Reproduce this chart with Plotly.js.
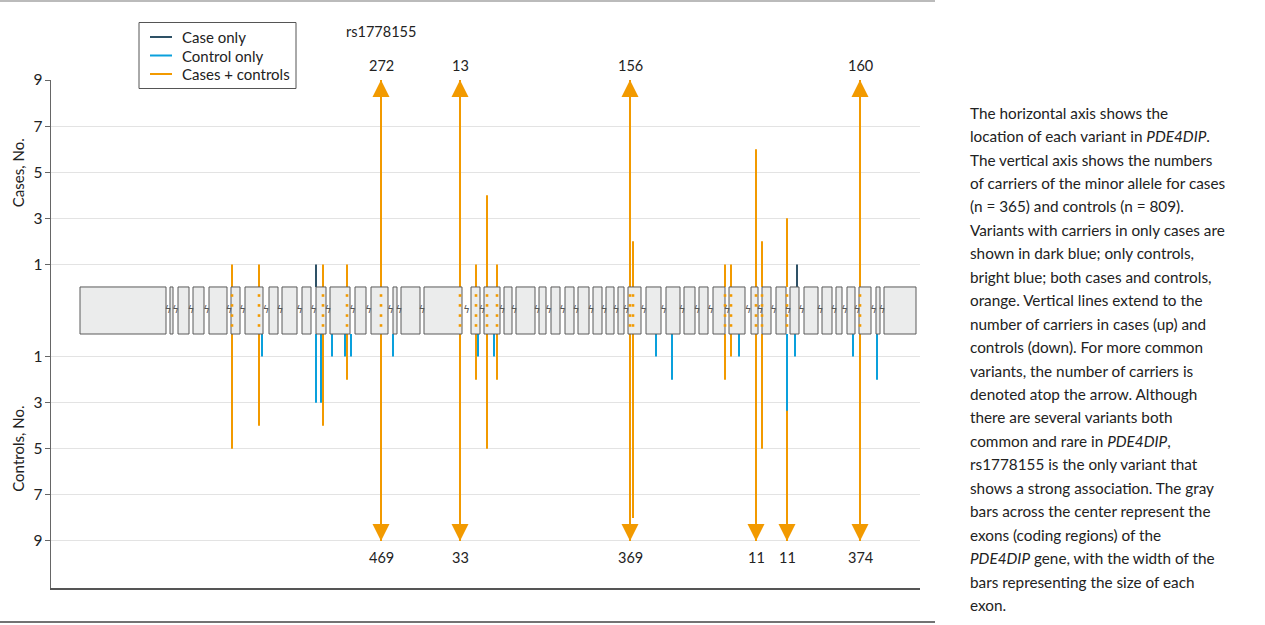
<!DOCTYPE html>
<html><head><meta charset="utf-8">
<script src="https://cdn.plot.ly/plotly-3.0.1.min.js"></script>
<style>html,body{margin:0;padding:0;background:#fff}#chart{width:1265px;height:625px}</style>
</head><body><div id="chart"></div>
<script>
// ---- exons of PDE4DIP (position units along the gene) ----
const exonStart = [80,170,178,193,209,231,245,269,282,302,316,330,355,371,393,401,424,471,484,504,516,539,551,565,578,593,606,618,628,646,666,684,699,713,729,751,762,776,790,804,822,836,847,859,876,884];
const exonEnd   = [166,173,189,204,227,240,263,278,297,311,326,350,366,388,397,420,462,480,500,512,535,546,560,574,589,602,614,624,641,661,680,695,708,725,745,758,771,786,799,818,832,842,855,871,880,916];

// ---- variants carried by both cases and controls ----
const bothPos      = [232,259,323,347,381,460,476,487,497,630,633,725,731,756,762,787,860];
const bothCases    = [1,1,1,1,272,13,1,4,1,156,2,1,1,6,2,3,160];
const bothControls = [5,4,4,2,469,33,2,5,2,369,8,2,1,11,5,11,374];

// ---- variants carried only by cases ----
const caseOnlyPos   = [316,797];
const caseOnlyCases = [1,1];

// ---- variants carried only by controls ----
const ctrlOnlyPos      = [262,316,321,332,345,351,393,478,494,656,672,739,787,795,853,877];
const ctrlOnlyControls = [1,3,3,1,1,1,1,1,1,1,2,1,3.35,1,1,2];

// ---- named variant ----
const namedPos = [381];
const namedLabel = ['rs1778155'];

// ---- axis ticks ----
const tickCounts = [9,7,5,3,1];
const seriesNames = ['Case only','Control only','Cases + controls'];

// ---- caption ----
const captionLines = [
 'The horizontal axis shows the',
 'location of each variant in <i>PDE4DIP</i>.',
 'The vertical axis shows the numbers',
 'of carriers of the minor allele for cases',
 '(n = 365) and controls (n = 809).',
 'Variants with carriers in only cases are',
 'shown in dark blue; only controls,',
 'bright blue; both cases and controls,',
 'orange. Vertical lines extend to the',
 'number of carriers in cases (up) and',
 'controls (down). For more common',
 'variants, the number of carriers is',
 'denoted atop the arrow. Although',
 'there are several variants both',
 'common and rare in <i>PDE4DIP</i>,',
 'rs1778155 is the only variant that',
 'shows a strong association. The gray',
 'bars across the center represent the',
 'exons (coding regions) of the',
 '<i>PDE4DIP</i> gene, with the width of the',
 'bars representing the size of each',
 'exon.'
];

// ---- style ----
const ORANGE = '#F29A00', BLUE = '#0AA0DC', DARK = '#2E5166';
const COLORS = [DARK, BLUE, ORANGE];
const FONT = 'Lato, "Open Sans", sans-serif';
const CAP = 9;          // largest count drawn to scale
const OFFSET = 1;       // gap between band centre and count 0
const HALF = 1.02;      // half height of exon band
const dotLevels = [0.65, 0.22, -0.22, -0.65];

const toY = (v, sign) => sign * (Math.min(v, CAP) + OFFSET);

function stemXY(pos, vals, sign) {
  const x = [], y = [];
  pos.forEach((p, i) => { x.push(p, p, null); y.push(sign * HALF, toY(vals[i], sign), null); });
  return {x, y};
}

const bUp = stemXY(bothPos, bothCases, 1);
const bDn = stemXY(bothPos, bothControls, -1);
const cUp = stemXY(caseOnlyPos, caseOnlyCases, 1);
const kDn = stemXY(ctrlOnlyPos, ctrlOnlyControls, -1);

const traces = [];
traces.push({type:'scatter', mode:'lines', name:seriesNames[2], showlegend:false,
  x: bUp.x.concat(bDn.x), y: bUp.y.concat(bDn.y),
  line:{color:ORANGE, width:2}, hoverinfo:'skip'});
traces.push({type:'scatter', mode:'lines', name:seriesNames[1], showlegend:false,
  x: kDn.x, y: kDn.y, line:{color:BLUE, width:2}, hoverinfo:'skip'});
traces.push({type:'scatter', mode:'lines', name:seriesNames[0], showlegend:false,
  x: cUp.x, y: cUp.y, line:{color:DARK, width:2}, hoverinfo:'skip'});

// exon band
const ex = [], ey = [];
exonStart.forEach((s, i) => {
  const e = exonEnd[i];
  ex.push(s, e, e, s, s, null); ey.push(-HALF, -HALF, HALF, HALF, -HALF, null);
});
traces.push({type:'scatter', mode:'lines', x:ex, y:ey, fill:'toself', fillcolor:'#EBECEC',
  line:{color:'#5a5a5a', width:1}, showlegend:false, hoverinfo:'skip'});

// intron break marks
const gapX = exonStart.slice(1).map((s, i) => (s + exonEnd[i]) / 2);
traces.push({type:'scatter', mode:'text', x:gapX, y:gapX.map(() => 0), text:gapX.map(() => 'ϟ'),
  textfont:{family:'DejaVu Sans', size:10, color:'#555'}, showlegend:false, hoverinfo:'skip'});

// dotted continuation of shared variants through the band
const dx = [], dy = [];
bothPos.forEach(p => dotLevels.forEach(l => { dx.push(p); dy.push(l); }));
traces.push({type:'scatter', mode:'markers', x:dx, y:dy,
  marker:{symbol:'square', size:2.6, color:ORANGE}, showlegend:false, hoverinfo:'skip'});

// arrows + labels for off-scale counts
const annotations = [];
function addArrow(p, v, sign) {
  annotations.push({x:p, y:toY(v, sign), xref:'x', yref:'y', text:'', showarrow:true,
    ax:0, ay:sign*30, arrowhead:2, arrowsize:1.7, arrowwidth:2, arrowcolor:ORANGE, standoff:0});
  annotations.push({x:p, y:toY(v, sign), xref:'x', yref:'y', text:String(v), showarrow:false,
    yanchor: sign > 0 ? 'bottom' : 'top', yshift: sign > 0 ? 4 : -6,
    font:{family:FONT, size:14.5, color:'#222'}});
}
bothPos.forEach((p, i) => {
  if (bothCases[i] > CAP) addArrow(p, bothCases[i], 1);
  if (bothControls[i] > CAP) addArrow(p, bothControls[i], -1);
});
namedPos.forEach((p, i) => annotations.push({x:p, y:CAP + OFFSET, xref:'x', yref:'y', text:namedLabel[i],
  showarrow:false, yanchor:'bottom', yshift:38, font:{family:FONT, size:14.5, color:'#222'}}));

// axis titles
annotations.push({xref:'paper', yref:'y', x:-0.038, y:6, xanchor:'center', yanchor:'middle', text:'Cases, No.', textangle:-90, showarrow:false,
  font:{family:FONT, size:15, color:'#222'}});
annotations.push({xref:'paper', yref:'y', x:-0.038, y:-6, xanchor:'center', yanchor:'middle', text:'Controls, No.', textangle:-90, showarrow:false,
  font:{family:FONT, size:15, color:'#222'}});

// caption
const plotTop = 80, plotBot = 588, plotLeft = 51, plotRight = 920;
const px2py = py => (plotBot - py) / (plotBot - plotTop);
const px2px = px => (px - plotLeft) / (plotRight - plotLeft);
captionLines.forEach((t, i) => annotations.push({xref:'paper', yref:'paper', x:px2px(968), y:px2py(112.7 + i*23.44),
  xanchor:'left', yanchor:'middle', text:t, showarrow:false, align:'left',
  font:{family:FONT, size:15.3, color:'#222'}}));

// legend (drawn by hand to match compact spacing)
const shapes = [
  {type:'line', xref:'paper', yref:'paper', x0:px2px(0), x1:px2px(935), y0:px2py(1), y1:px2py(1), line:{color:'#BBBBBB', width:2}},
  {type:'line', xref:'paper', yref:'paper', x0:px2px(0), x1:px2px(935), y0:px2py(622), y1:px2py(622), line:{color:'#444', width:1.5}},
  {type:'rect', xref:'paper', yref:'paper', x0:px2px(139), x1:px2px(296), y0:px2py(22.5), y1:px2py(88.5), line:{color:'#555', width:1}, fillcolor:'#fff'}
];
seriesNames.forEach((n, i) => {
  const py = 37 + i*18.5;
  shapes.push({type:'line', xref:'paper', yref:'paper', x0:px2px(150), x1:px2px(172), y0:px2py(py), y1:px2py(py), line:{color:COLORS[i], width:2}});
  annotations.push({xref:'paper', yref:'paper', x:px2px(180), y:px2py(py), xanchor:'left', yanchor:'middle', text:n, showarrow:false,
    font:{family:FONT, size:15, color:'#222'}});
});

const tickVals = tickCounts.map(c => toY(c, 1)).concat(tickCounts.slice().reverse().map(c => toY(c, -1)));
const tickText = tickCounts.map(String).concat(tickCounts.slice().reverse().map(String));

const layout = {
  width:1265, height:625,
  margin:{l:plotLeft, r:1265-plotRight, t:plotTop, b:625-plotBot},
  paper_bgcolor:'#fff', plot_bgcolor:'#fff',
  font:{family:FONT, size:14, color:'#222'},
  showlegend:false,
  xaxis:{range:[plotLeft, plotRight], showticklabels:false, ticks:'', showgrid:false, zeroline:false,
    showline:true, linecolor:'#555', linewidth:1.5, fixedrange:true},
  yaxis:{range:[-(CAP + OFFSET) - 2.04, CAP + OFFSET], tickvals:tickVals, ticktext:tickText,
    ticks:'outside', ticklen:5, tickcolor:'#666', tickwidth:1, showline:true, linecolor:'#666', linewidth:1.5,
    ticklabelstandoff:-1,
    showgrid:true, gridcolor:'#E3E3E3', gridwidth:1, zeroline:false, tickfont:{family:FONT, size:15.5, color:'#222'}},
  annotations,
  shapes
};

Plotly.newPlot('chart', traces, layout, {displayModeBar:false, staticPlot:true});
</script></body></html>
